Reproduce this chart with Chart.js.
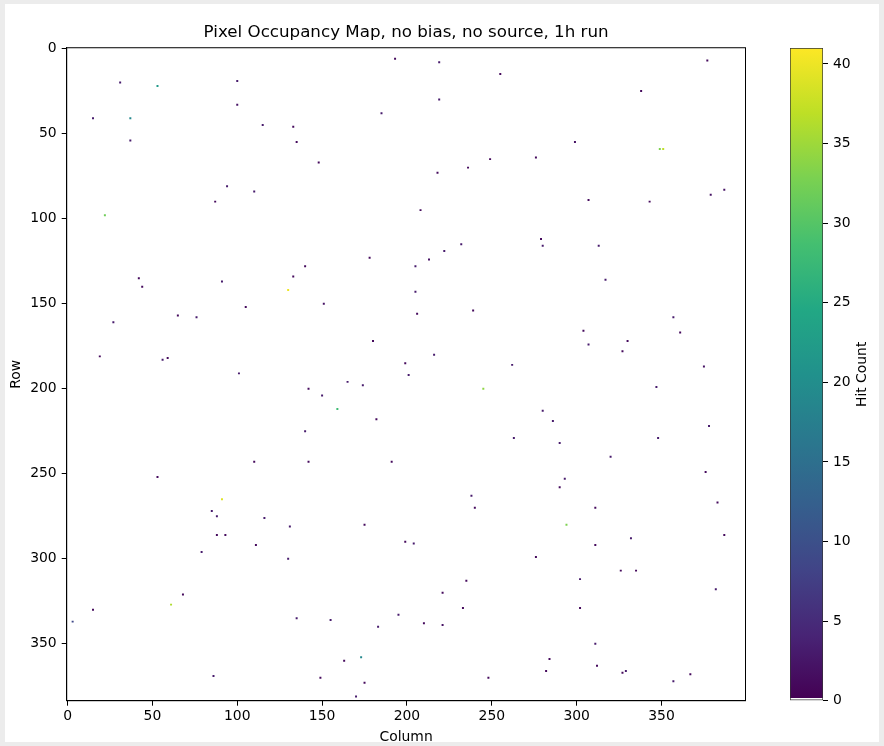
<!DOCTYPE html>
<html>
<head>
<meta charset="utf-8">
<script src="https://cdn.jsdelivr.net/npm/chart.js@4.4.0/dist/chart.umd.min.js"></script>
<style>
  html, body { margin: 0; padding: 0; background: #ececec; }
  #frame { position: absolute; left: 5px; top: 4px; width: 874px; height: 738px; background: #fff; }
  #mapCanvas { position: absolute; left: 0; top: 0; width: 812px; height: 746px; }
  #barCanvas { position: absolute; left: 770px; top: 0; width: 114px; height: 746px; }
</style>
</head>
<body>
<div id="frame"></div>
<canvas id="mapCanvas" width="812" height="746"></canvas>
<canvas id="barCanvas" width="114" height="746"></canvas>
<script>
// Hit pixels (column, row, hit count)
const cols = [31, 53, 100, 100, 15, 37, 115, 133, 37, 94, 110, 87, 22, 193, 219, 255, 219, 185, 135, 148,
  249, 236, 218, 208, 232, 222, 213, 178, 140, 205, 377, 338, 299, 349, 351, 276, 307, 343, 379, 387,
  279, 280, 313, 42, 44, 91, 133, 130, 105, 27, 65, 76, 19, 56, 59, 101, 110, 53, 205, 151,
  206, 239, 180, 216, 199, 262, 201, 165, 174, 142, 150, 159, 245, 182, 140, 263, 142, 191, 317, 357,
  361, 304, 307, 330, 327, 375, 347, 280, 286, 378, 348, 290, 320, 376, 293, 91, 85, 88, 116, 131,
  88, 93, 111, 79, 130, 68, 61, 15, 3, 86, 238, 240, 175, 199, 204, 235, 221, 233, 135, 155,
  195, 183, 210, 221, 173, 163, 149, 175, 170, 248, 290, 311, 383, 294, 332, 387, 311, 276, 326, 335,
  302, 382, 302, 311, 284, 282, 312, 329, 327, 367, 357];
const rows = [20, 22, 19, 33, 41, 41, 45, 46, 54, 81, 84, 90, 98, 6, 8, 15, 30, 38, 55, 67,
  65, 70, 73, 95, 115, 119, 124, 123, 128, 128, 7, 25, 55, 59, 59, 64, 89, 90, 86, 83,
  112, 116, 116, 135, 140, 137, 134, 142, 152, 161, 157, 158, 181, 183, 182, 191, 243, 252, 143, 150,
  156, 154, 172, 180, 185, 186, 192, 196, 198, 200, 204, 212, 200, 218, 225, 229, 243, 243, 136, 158,
  167, 166, 174, 172, 178, 187, 199, 213, 219, 222, 229, 232, 240, 249, 253, 265, 272, 275, 276, 281,
  286, 286, 292, 296, 300, 321, 327, 330, 337, 369, 263, 270, 280, 290, 291, 313, 320, 329, 335, 336,
  333, 340, 338, 339, 358, 360, 370, 373, 381, 370, 258, 270, 267, 280, 288, 286, 292, 299, 307, 307,
  312, 318, 329, 350, 359, 366, 363, 366, 367, 368, 372];
const hits = [3, 22, 3, 2, 3, 19, 3, 1, 3, 3, 3, 1, 32, 1, 3, 1, 3, 3, 1, 1,
  1, 1, 1, 1, 3, 3, 2, 1, 1, 3, 1, 1, 2, 33, 37, 1, 1, 1, 2, 2,
  1, 3, 3, 1, 1, 3, 1, 40, 1, 3, 1, 3, 1, 3, 1, 3, 1, 1, 3, 2,
  1, 1, 1, 3, 1, 3, 3, 3, 3, 1, 3, 28, 34, 1, 3, 3, 1, 1, 3, 3,
  1, 1, 3, 1, 1, 2, 3, 3, 3, 3, 3, 3, 3, 1, 3, 39, 3, 3, 3, 3,
  1, 1, 1, 3, 3, 1, 36, 1, 9, 3, 3, 1, 1, 1, 3, 1, 1, 1, 3, 3,
  3, 3, 1, 2, 19, 1, 1, 1, 3, 1, 1, 1, 1, 33, 3, 1, 1, 1, 1, 1,
  3, 3, 1, 3, 1, 1, 1, 3, 1, 1, 3];

const nCols = 400;
const nRows = 384;
const hitMax = 41;
const axisTicks = [0, 50, 100, 150, 200, 250, 300, 350];
const barTicks = [0, 5, 10, 15, 20, 25, 30, 35, 40];

const FONT = 'DejaVu Sans';

// viridis, first of 256 entries replaced by white (zero hits)
const viridisStops = ['#440154', '#482475', '#414487', '#355f8d', '#2a788e', '#21918c',
  '#22a884', '#44bf70', '#7ad151', '#bddf26', '#fde725'];

function hexToRgb(h) {
  return [parseInt(h.slice(1, 3), 16), parseInt(h.slice(3, 5), 16), parseInt(h.slice(5, 7), 16)];
}

function viridis(t) {
  if (t <= 1 / 256) return '#ffffff';
  t = Math.min(1, Math.max(0, t));
  const pos = t * (viridisStops.length - 1);
  const i = Math.min(Math.floor(pos), viridisStops.length - 2);
  const f = pos - i;
  const a = hexToRgb(viridisStops[i]);
  const b = hexToRgb(viridisStops[i + 1]);
  const c = a.map((v, k) => Math.round(v + (b[k] - v) * f));
  return `rgb(${c[0]}, ${c[1]}, ${c[2]})`;
}

// Draws the top and right sides of the plot box
const boxFrame = {
  id: 'boxFrame',
  afterDraw(chart) {
    const { ctx, chartArea } = chart;
    ctx.save();
    ctx.strokeStyle = '#000';
    ctx.lineWidth = 1;
    ctx.strokeRect(chartArea.left, chartArea.top, chartArea.right - chartArea.left, chartArea.bottom - chartArea.top);
    ctx.restore();
  }
};

const tickFont = { family: FONT, size: 13.9 };

new Chart(document.getElementById('mapCanvas'), {
  type: 'scatter',
  data: {
    datasets: [{
      data: cols.map((c, i) => ({ x: c, y: rows[i] })),
      pointStyle: 'rect',
      pointRadius: 1.4,
      pointHoverRadius: 1.4,
      pointBorderWidth: 0,
      pointBackgroundColor: hits.map(h => viridis(h / hitMax)),
    }]
  },
  options: {
    responsive: false,
    animation: false,
    events: [],
    layout: { padding: { top: 0, left: 0, right: 66.5, bottom: 0 } },
    plugins: {
      legend: { display: false },
      tooltip: { enabled: false },
      title: {
        display: true,
        fullSize: false,
        text: 'Pixel Occupancy Map, no bias, no source, 1h run',
        color: '#000',
        font: { family: FONT, size: 16.7, weight: 'normal' },
        padding: { top: 22.5, bottom: 5.2 }
      }
    },
    scales: {
      x: {
        type: 'linear',
        min: -0.5,
        max: nCols - 0.5,
        afterBuildTicks: s => { s.ticks = axisTicks.map(v => ({ value: v })); },
        afterFit: s => { s.height = 45.3; },
        ticks: { font: tickFont, color: '#000', padding: 2, maxRotation: 0 },
        grid: { drawOnChartArea: false, drawTicks: true, tickLength: 5, tickColor: '#000', tickWidth: 1 },
        border: { display: true, color: '#000', width: 1 },
        title: { display: true, text: 'Column', color: '#000', font: tickFont, padding: { top: 0, bottom: 0.7 } }
      },
      y: {
        type: 'linear',
        reverse: true,
        min: -0.5,
        max: nRows - 0.5,
        afterBuildTicks: s => { s.ticks = axisTicks.map(v => ({ value: v })); },
        afterFit: s => { s.width = 66.7; },
        ticks: { font: tickFont, color: '#000', padding: 5 },
        grid: { drawOnChartArea: false, drawTicks: true, tickLength: 5, tickColor: '#000', tickWidth: 1 },
        border: { display: true, color: '#000', width: 1 },
        title: { display: true, text: 'Row', color: '#000', font: tickFont, padding: { top: 7.7, bottom: 0 } }
      }
    }
  },
  plugins: [boxFrame]
});

// Colorbar label, reading bottom to top
const barLabel = {
  id: 'barLabel',
  afterDraw(chart) {
    const { ctx, chartArea } = chart;
    ctx.save();
    ctx.translate(92, (chartArea.top + chartArea.bottom) / 2);
    ctx.rotate(-Math.PI / 2);
    ctx.fillStyle = '#000';
    ctx.font = `13.9px "${FONT}"`;
    ctx.textAlign = 'center';
    ctx.textBaseline = 'middle';
    ctx.fillText('Hit Count', 0, 0);
    ctx.restore();
  }
};

new Chart(document.getElementById('barCanvas'), {
  type: 'bar',
  data: {
    labels: [''],
    datasets: [{
      data: [hitMax],
      backgroundColor: (ctx) => {
        const area = ctx.chart.chartArea;
        if (!area) return '#440154';
        const g = ctx.chart.ctx.createLinearGradient(0, area.bottom, 0, area.top);
        g.addColorStop(0, '#ffffff');
        g.addColorStop(1 / 256, '#ffffff');
        g.addColorStop(1 / 256 + 0.0001, viridisStops[0]);
        viridisStops.forEach((c, i) => {
          if (i > 0) g.addColorStop(i / (viridisStops.length - 1), c);
        });
        return g;
      },
      borderColor: '#333',
      borderWidth: 1,
      borderSkipped: false,
      barPercentage: 1,
      categoryPercentage: 1
    }]
  },
  options: {
    responsive: false,
    animation: false,
    events: [],
    layout: { padding: { top: 48, left: 20, right: 0, bottom: 45.3 } },
    plugins: { legend: { display: false }, tooltip: { enabled: false } },
    scales: {
      x: { display: false },
      y: {
        position: 'right',
        min: 0,
        max: hitMax,
        afterBuildTicks: s => { s.ticks = barTicks.map(v => ({ value: v })); },
        afterFit: s => { s.width = 61; },
        ticks: { font: tickFont, color: '#000', padding: 5 },
        grid: { drawOnChartArea: false, drawTicks: true, tickLength: 5, tickColor: '#000', tickWidth: 1 },
        border: { display: false }
      }
    }
  },
  plugins: [barLabel]
});
</script>
</body>
</html>
